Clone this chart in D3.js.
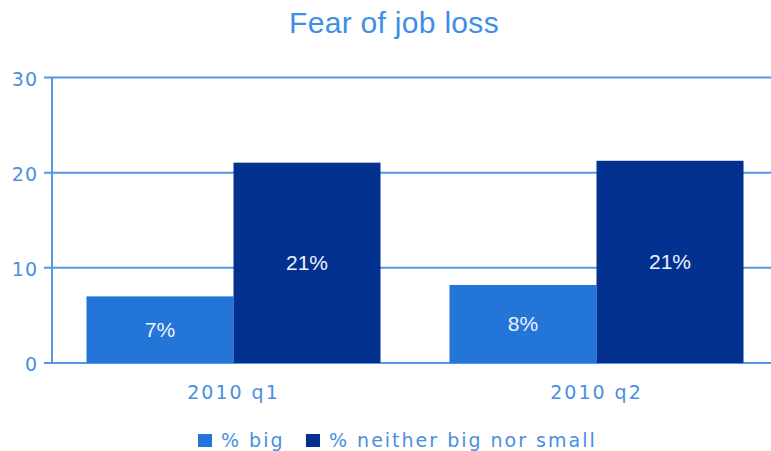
<!DOCTYPE html>
<html>
<head>
<meta charset="utf-8">
<script src="https://cdn.jsdelivr.net/npm/d3@7"></script>
<style>
  body { margin: 0; background: #fff; }
  svg { display: block; }
</style>
</head>
<body>
<div id="chart"></div>
<script>
// data
const categories = ["2010 q1", "2010 q2"];
const seriesNames = ["% big", "% neither big nor small"];
const bigValues = [7.0, 8.2];
const neitherValues = [21.05, 21.25];
const barLabels = [["7%", "21%"], ["8%", "21%"]];
const yTicks = [0, 10, 20, 30];

const width = 771, height = 451;
const colors = ["#2375d8", "#03318f"];
const lineColor = "#5597e6";
const textColor = "#4a8fe2";

const svg = d3.select("#chart").append("svg")
    .attr("width", width)
    .attr("height", height);

// title
svg.append("text")
    .attr("x", 394)
    .attr("y", 33)
    .attr("text-anchor", "middle")
    .attr("font-family", "Liberation Sans, Arial, sans-serif")
    .attr("font-size", 30)
    .attr("letter-spacing", 0.3)
    .attr("fill", "#3f8ee6")
    .text("Fear of job loss");

const x0 = d3.scaleBand()
    .domain(categories)
    .range([52, 778])
    .paddingInner(0.19)
    .paddingOuter(0.095);
const x1 = d3.scaleBand()
    .domain(seriesNames)
    .range([0, x0.bandwidth()]);
const y = d3.scaleLinear()
    .domain([0, 30])
    .range([363, 77.5]);

// grid lines + ticks
svg.append("g")
    .selectAll("line")
    .data(yTicks)
    .join("line")
    .attr("x1", 44)
    .attr("x2", width)
    .attr("y1", d => y(d))
    .attr("y2", d => y(d))
    .attr("stroke", lineColor)
    .attr("stroke-width", 2);

svg.append("line")
    .attr("x1", 52).attr("x2", 52)
    .attr("y1", y(30)).attr("y2", y(0))
    .attr("stroke", lineColor)
    .attr("stroke-width", 2);

svg.append("g")
    .selectAll("text")
    .data(yTicks)
    .join("text")
    .attr("x", 38)
    .attr("y", d => y(d) + 8)
    .attr("text-anchor", "end")
    .attr("font-family", "DejaVu Sans, Verdana, sans-serif")
    .attr("font-size", 19)
    .attr("letter-spacing", 1)
    .attr("fill", textColor)
    .text(d => d);

// bars
const rows = categories.map((c, i) => ({
    cat: c,
    vals: [bigValues[i], neitherValues[i]],
    labels: barLabels[i]
}));

const groups = svg.append("g")
    .selectAll("g")
    .data(rows)
    .join("g")
    .attr("transform", d => `translate(${x0(d.cat)},0)`);

groups.selectAll("rect")
    .data(d => d.vals.map((v, j) => ({ name: seriesNames[j], v, j })))
    .join("rect")
    .attr("x", d => x1(d.name))
    .attr("y", d => y(d.v))
    .attr("width", x1.bandwidth())
    .attr("height", d => y(0) - y(d.v))
    .attr("fill", d => colors[d.j]);

groups.selectAll("text")
    .data(d => d.vals.map((v, j) => ({ name: seriesNames[j], v, label: d.labels[j] })))
    .join("text")
    .attr("x", d => x1(d.name) + x1.bandwidth() / 2)
    .attr("y", d => (y(d.v) + y(0)) / 2 + 7)
    .attr("text-anchor", "middle")
    .attr("font-family", "Liberation Sans, Arial, sans-serif")
    .attr("font-size", 21)
    .attr("fill", "#eef2fb")
    .text(d => d.label);

// category labels
svg.append("g")
    .selectAll("text")
    .data(categories)
    .join("text")
    .attr("x", d => x0(d) + x0.bandwidth() / 2)
    .attr("y", 399)
    .attr("text-anchor", "middle")
    .attr("font-family", "DejaVu Sans, Verdana, sans-serif")
    .attr("font-size", 19)
    .attr("letter-spacing", 2)
    .attr("fill", textColor)
    .text(d => d);

// legend
const legendX = [198, 306];
const legend = svg.append("g")
    .selectAll("g")
    .data(seriesNames)
    .join("g")
    .attr("transform", (d, i) => `translate(${legendX[i]},434)`);
legend.append("rect")
    .attr("width", 14)
    .attr("height", 13)
    .attr("fill", (d, i) => colors[i]);
legend.append("text")
    .attr("x", 23)
    .attr("y", 13)
    .attr("font-family", "DejaVu Sans, Verdana, sans-serif")
    .attr("font-size", 19)
    .attr("letter-spacing", 2)
    .attr("fill", textColor)
    .text(d => d);
</script>
</body>
</html>
